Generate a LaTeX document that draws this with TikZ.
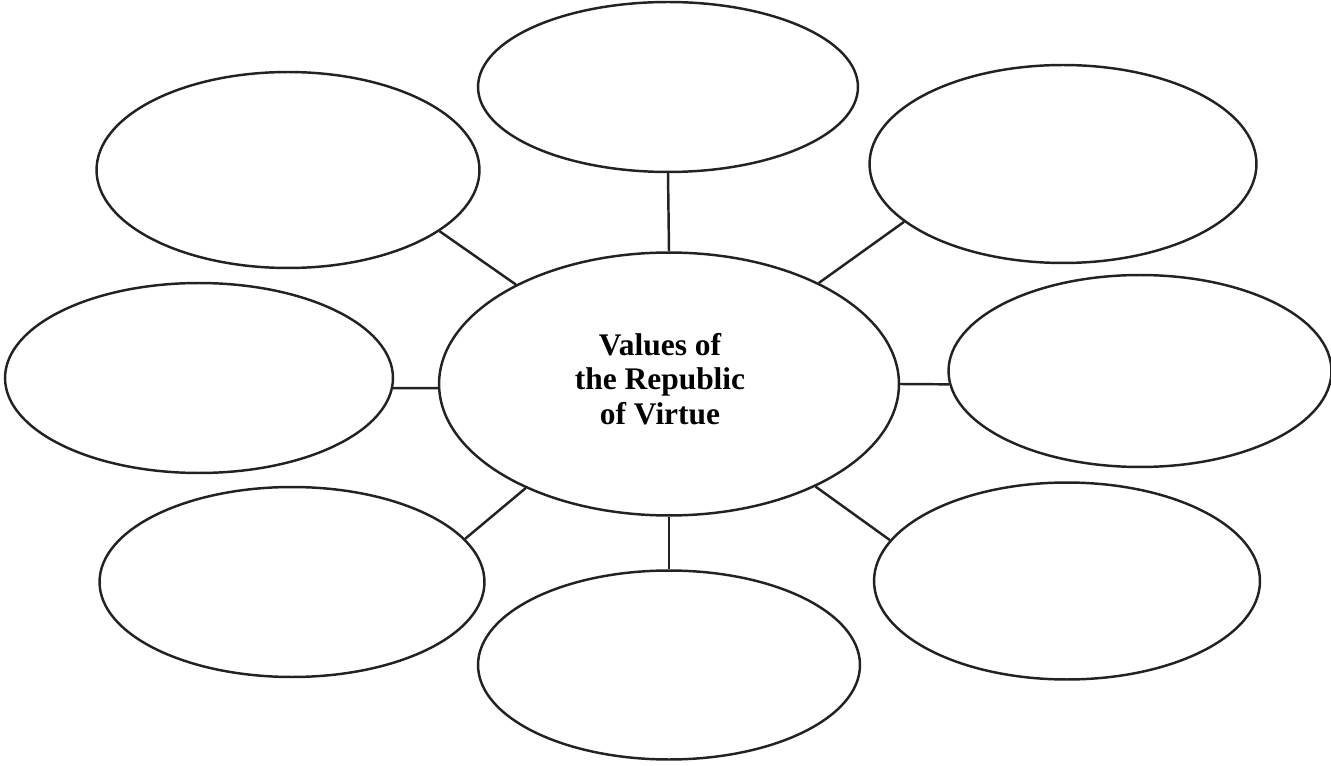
\documentclass[tikz,border=0pt]{standalone}
\usepackage{fontspec}
\setmainfont{Liberation Serif}
\usepackage{xcolor}
\definecolor{DarkGrey}{HTML}{222222}
\usepackage{tikz}
\usetikzlibrary{shapes.geometric}
\newcommand\BubWidth{7.64cm}
\newcommand\BubHeight{3.8cm}
\tikzstyle{bubble}=[ellipse,draw=DarkGrey,line width=1.4pt,inner sep=0pt,
                     minimum width=\BubWidth,minimum height=\BubHeight]
\tikzstyle{hub}=[bubble,minimum width=9.2cm,minimum height=5.26cm]
\tikzstyle{title}=[align=center,inner sep=0pt,
                     font=\bfseries\fontsize{17.9}{19.8}\selectfont]
\tikzstyle{spoke}=[draw=DarkGrey,line width=1.4pt]
\begin{document}
\begin{tikzpicture}[x=0.02cm,y=-0.02cm]
      \useasboundingbox (0,0) rectangle (1331,766);
      \node[hub] (c) at (669,384) {};
      \node[title] (name) at (660,379) {Values of\\the Republic\\of Virtue};
      \node[bubble,minimum width=7.6cm,minimum height=3.4cm] (t) at (668,87) {};
      \node[bubble,minimum width=7.66cm,minimum height=3.92cm] (tl) at (288,170) {};
      \node[bubble,minimum width=7.74cm,minimum height=3.96cm] (tr) at (1063,164) {};
      \node[bubble,minimum width=7.76cm] (l) at (199,378) {};
      \node[bubble,minimum width=7.66cm,minimum height=3.84cm] (r) at (1140,371) {};
      \node[bubble,minimum width=7.7cm] (bl) at (292,582) {};
      \node[bubble,minimum height=3.78cm] (b) at (669,665) {};
      \node[bubble,minimum width=7.72cm,minimum height=3.94cm] (br) at (1067,581) {};
      \draw[spoke] (c.north) -- (t.south);
      \draw[spoke] (c.147) -- (tl.-22);
      \draw[spoke] (c.34) -- (tr.200);
      \draw[spoke] (c.181) -- (l.-3);
      \draw[spoke] (c.east) -- (r.184);
      \draw[spoke] (c.216) -- (bl.14);
      \draw[spoke] (c.south) -- (b.north);
      \draw[spoke] (c.-35) -- (br.167);
   \end{tikzpicture}
\end{document}
